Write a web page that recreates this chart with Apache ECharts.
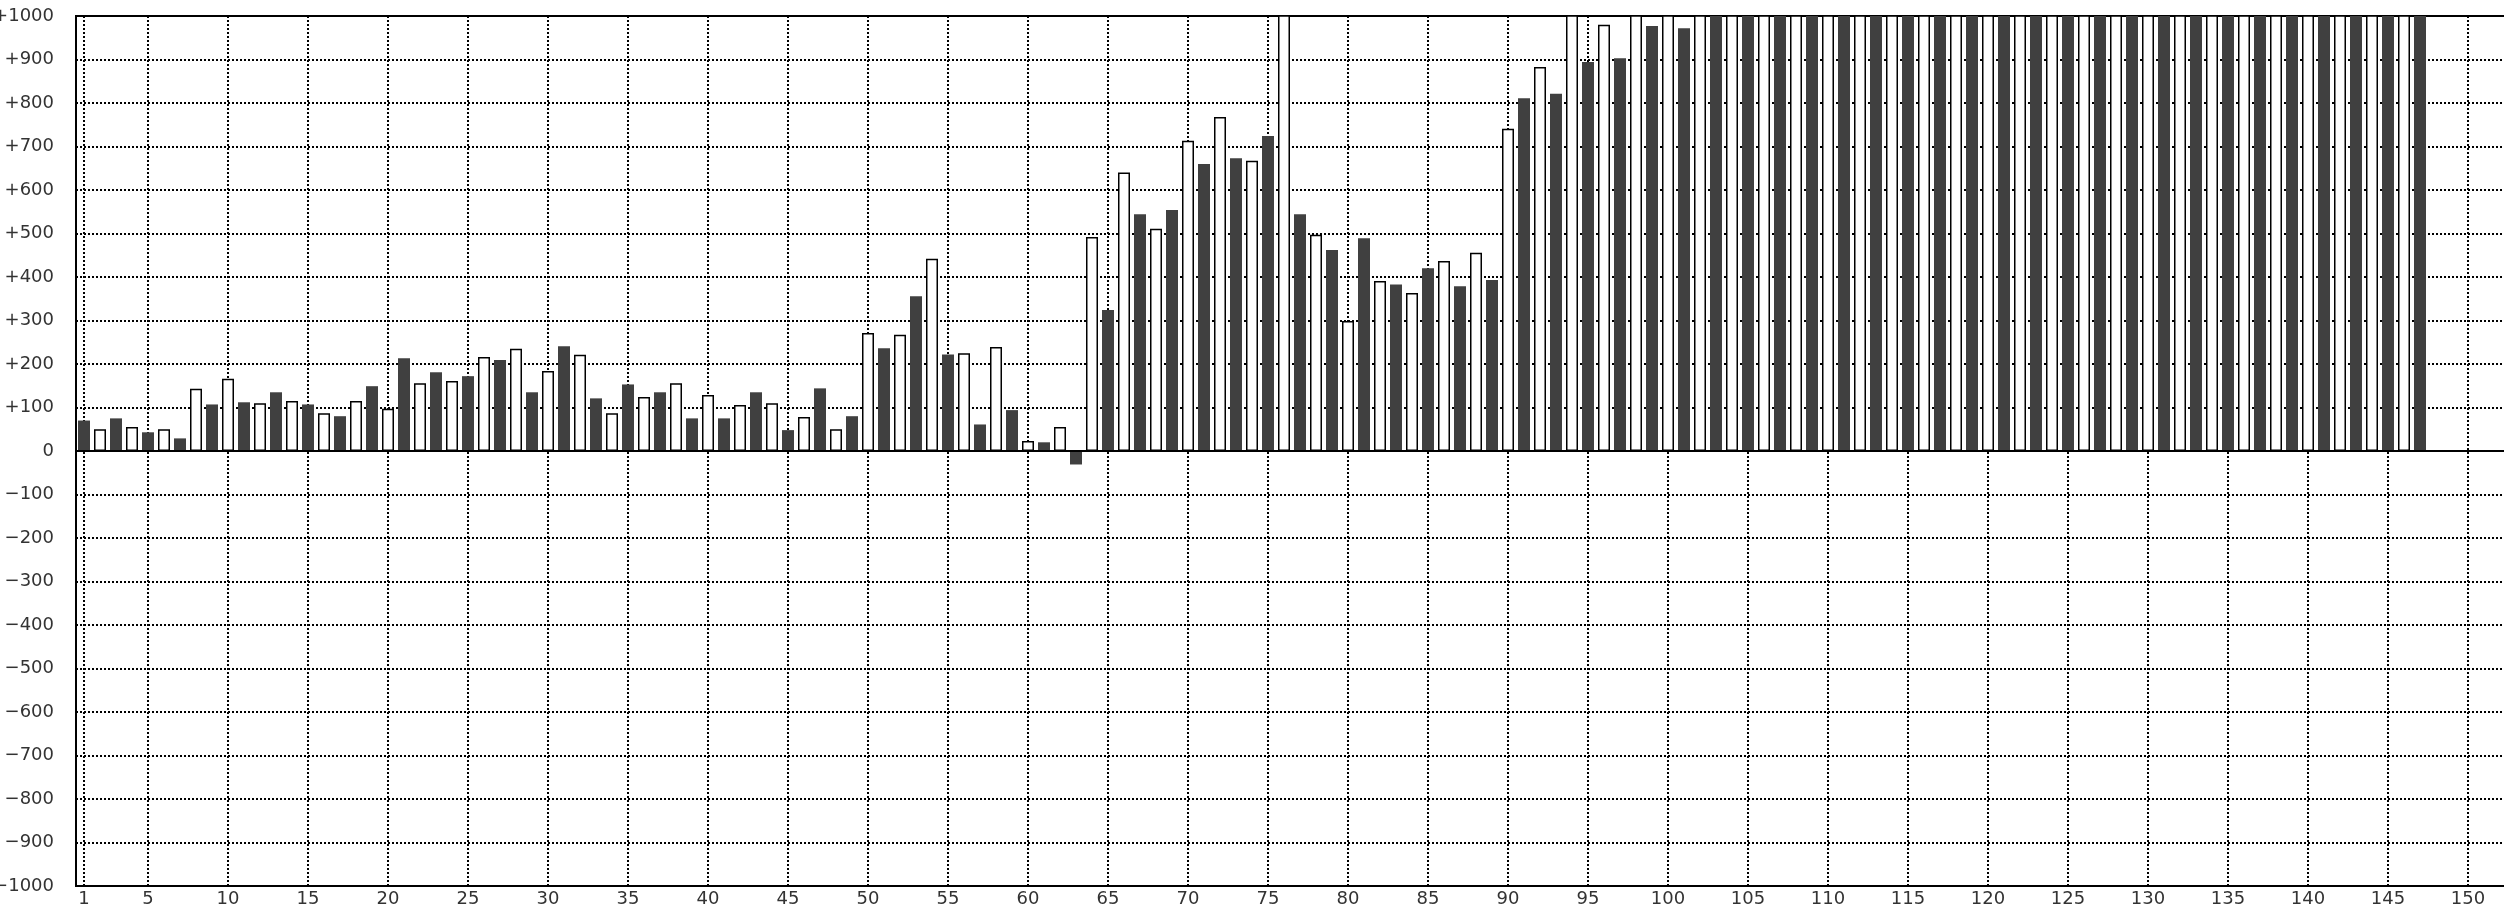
<!DOCTYPE html>
<html>
<head>
<meta charset="utf-8">
<style>
  html, body { margin: 0; padding: 0; background: #fff; }
  #chart { width: 2504px; height: 906px; }
</style>
<script src="https://cdn.jsdelivr.net/npm/echarts@6/dist/echarts.min.js"></script>
</head>
<body>
<div id="chart"></div>
<script>
// Categories 1..152
const categories = [
  '1','2','3','4','5','6','7','8','9','10','11','12','13','14','15','16','17','18','19','20',
  '21','22','23','24','25','26','27','28','29','30','31','32','33','34','35','36','37','38','39','40',
  '41','42','43','44','45','46','47','48','49','50','51','52','53','54','55','56','57','58','59','60',
  '61','62','63','64','65','66','67','68','69','70','71','72','73','74','75','76','77','78','79','80',
  '81','82','83','84','85','86','87','88','89','90','91','92','93','94','95','96','97','98','99','100',
  '101','102','103','104','105','106','107','108','109','110','111','112','113','114','115','116','117','118','119','120',
  '121','122','123','124','125','126','127','128','129','130','131','132','133','134','135','136','137','138','139','140',
  '141','142','143','144','145','146','147','148','149','150','151','152'
];

// Dark bars: odd categories 1,3,5,...,147
const darkValues = [
  70, 75, 43, 29, 107, 112, 135, 107, 80, 149,
  213, 181, 172, 209, 135, 241, 121, 153, 135, 75,
  75, 135, 48, 144, 80, 236, 356, 222, 61, 94,
  20, -31, 324, 544, 554, 660, 673, 724, 544, 462,
  489, 383, 420, 379, 393, 811, 821, 894, 903, 977,
  972, 1000, 1000, 1000, 1000, 1000, 1000, 1000, 1000, 1000,
  1000, 1000, 1000, 1000, 1000, 1000, 1000, 1000, 1000, 1000,
  1000, 1000, 1000, 1000
];

// White (outlined) bars: even categories 2,4,6,...,146
const whiteValues = [
  50, 55, 50, 143, 166, 110, 115, 87, 115, 97,
  156, 161, 216, 235, 184, 221, 87, 124, 156, 129,
  106, 110, 78, 50, 271, 267, 442, 225, 239, 23,
  55, 492, 640, 511, 713, 768, 667, 1100, 497, 299,
  391, 363, 437, 456, 741, 883, 1100, 980, 1100, 1100,
  1100, 1100, 1100, 1100, 1100, 1100, 1100, 1100, 1100, 1100,
  1100, 1100, 1100, 1100, 1100, 1100, 1100, 1100, 1100, 1100,
  1100, 1100, 1100
];

const yTicks = { min: -1000, max: 1000, step: 100 };
const labeledX = (v) => v === '1' || Number(v) % 5 === 0;

// Build full-length series arrays from the per-colour arrays
const darkData = categories.map((c, i) => {
  const n = i + 1;
  return (n % 2 === 1 && (n - 1) / 2 < darkValues.length) ? darkValues[(n - 1) / 2] : '-';
});
const whiteData = categories.map((c, i) => {
  const n = i + 1;
  return (n % 2 === 0 && n / 2 - 1 < whiteValues.length) ? whiteValues[n / 2 - 1] : '-';
});

const FONT = 'DejaVu Sans';
const chart = echarts.init(document.getElementById('chart'), null, { renderer: 'canvas' });
chart.setOption({
  animation: false,
  backgroundColor: '#ffffff',
  grid: {
    left: 76, top: 16, bottom: 20, width: 2432,
    show: true, borderColor: '#000', borderWidth: 2, backgroundColor: 'transparent',
    containLabel: false, outerBoundsMode: 'none'
  },
  xAxis: {
    type: 'category',
    data: categories,
    boundaryGap: true,
    axisLine: { show: true, onZero: false, lineStyle: { color: '#000', width: 2 } },
    axisTick: { show: false },
    axisLabel: {
      interval: (idx, v) => labeledX(v),
      color: '#333', fontFamily: FONT, fontSize: 18, margin: 4
    },
    splitLine: {
      show: true,
      interval: (idx, v) => labeledX(v),
      alignWithLabel: true,
      lineStyle: { color: '#000', width: 2, type: [2, 2] }
    }
  },
  yAxis: {
    type: 'value',
    min: yTicks.min, max: yTicks.max, interval: yTicks.step,
    axisLine: { show: true, lineStyle: { color: '#000', width: 2 } },
    axisTick: { show: false },
    axisLabel: {
      color: '#333', fontFamily: FONT, fontSize: 18, margin: 22,
      formatter: (v) => v > 0 ? '+' + v : (v < 0 ? '\u2212' + (-v) : '0')
    },
    splitLine: { show: true, lineStyle: { color: '#000', width: 2, type: [2, 2] } }
  },
  series: [
    {
      name: 'dark', type: 'bar', data: darkData,
      barWidth: 12, barGap: '-100%',
      clip: true,
      itemStyle: { color: '#404040' }
    },
    {
      name: 'white', type: 'bar', data: whiteData,
      barWidth: 12, barGap: '-100%',
      clip: true,
      itemStyle: { color: '#ffffff', borderColor: '#000', borderWidth: 1.5 },
      markLine: {
        silent: true, symbol: 'none', animation: false,
        label: { show: false },
        lineStyle: { color: '#000', width: 2, type: 'solid' },
        data: [{ yAxis: 0 }]
      }
    }
  ]
});
</script>
</body>
</html>
